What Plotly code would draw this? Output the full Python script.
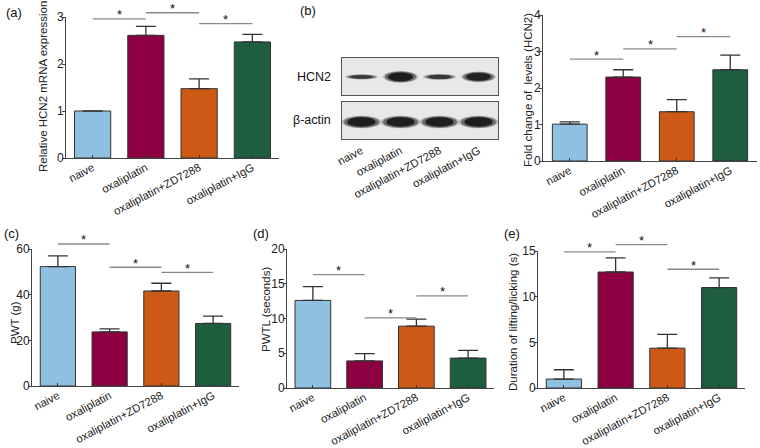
import plotly.graph_objects as go

# ---------------- data ----------------
groups = ["naive", "oxaliplatin", "oxaliplatin+ZD7288", "oxaliplatin+IgG"]
colors = ["#8fc0e2", "#8c0042", "#cc5a16", "#1f5d3f"]

a_vals = [1.0, 2.61, 1.475, 2.47]
a_err = [0.0, 0.19, 0.21, 0.16]
a_sig = [2.96, 3.09, 2.86]

b_vals = [1.01, 2.30, 1.35, 2.50]
b_err = [0.06, 0.20, 0.33, 0.40]
b_sig = [2.79, 3.07, 3.41]

c_vals = [52.3, 23.7, 41.6, 27.4]
c_err = [4.7, 1.3, 3.4, 3.2]
c_sig = [62.2, 52.0, 49.8]

d_vals = [12.6, 3.9, 8.9, 4.3]
d_err = [2.0, 1.06, 1.0, 1.1]
d_sig = [16.3, 10.1, 13.25]

e_vals = [0.98, 12.7, 4.36, 11.0]
e_err = [1.02, 1.54, 1.52, 1.06]
e_sig = [14.9, 15.7, 13.0]

sig_pairs = [(0, 1), (1, 2), (2, 3)]

hcn2_band = [0.45, 1.0, 0.5, 0.9]
actin_band = [1.0, 1.0, 1.0, 1.0]

FONT = "Arial, Liberation Sans, sans-serif"
W, H = 760, 448

def px_x(a, b):
    return [a / W, b / W]

def px_y(top, bottom):
    return [1 - bottom / H, 1 - top / H]

fig = go.Figure()

panels = [
    # (axis suffix, vals, err, sig, ymax, dtick, bar width, xdom, ydom)
    ("", a_vals, a_err, a_sig, 3, 1, 0.68, px_x(66, 279), px_y(17, 158)),
    ("4", b_vals, b_err, b_sig, 4, 1, 0.65, px_x(543, 757), px_y(15, 161)),
    ("5", c_vals, c_err, c_sig, 60, 20, 0.68, px_x(32, 239), px_y(249, 386)),
    ("6", d_vals, d_err, d_sig, 20, 5, 0.69, px_x(287, 494), px_y(249, 388)),
    ("7", e_vals, e_err, e_sig, 15, 5, 0.68, px_x(538, 745), px_y(251, 388)),
]

axis_common = dict(showgrid=False, zeroline=False, showline=True,
                   linecolor="#444", linewidth=1, automargin=False,
                   tickfont=dict(family=FONT, size=12, color="#222"))

annotations = []
shapes = []

for suf, vals, err, sig, ymax, dtick, bw, xdom, ydom in panels:
    xa = "x" + suf
    ya = "y" + suf
    fig.add_trace(go.Bar(
        x=groups, y=vals, width=bw,
        marker=dict(color=colors, line=dict(color="#333", width=1)),
        error_y=dict(type="data", symmetric=False, array=err,
                     arrayminus=[0] * len(err), color="#333",
                     thickness=1.3, width=10),
        xaxis=xa, yaxis=ya, showlegend=False, hoverinfo="skip"))
    xkey = "xaxis" + suf
    ykey = "yaxis" + suf
    fig.layout[xkey] = dict(axis_common, domain=xdom, anchor=ya,
                            type="category", range=[-0.5, 3.5],
                            ticks="inside", ticklen=3, tickcolor="#333",
                            tickangle=-28, ticklabelstandoff=-2,
                            tickfont=dict(family=FONT, size=11.3, color="#222"))
    fig.layout[ykey] = dict(axis_common, domain=ydom, anchor=xa,
                            range=[0, ymax], dtick=dtick, ticks="outside",
                            ticklen=3, tickcolor="#444",
                            ticklabelstandoff=-4)
    # significance brackets: y given in axis-domain fraction of the value
    for (i, j), h in zip(sig_pairs, sig):
        shapes.append(dict(type="line", xref=xa, yref=ya + " domain",
                           x0=i, x1=j, y0=h / ymax, y1=h / ymax,
                           line=dict(color="#8a8a8a", width=1.3)))
        annotations.append(dict(
            x=(i + j) / 2, y=h / ymax, xref=xa, yref=ya + " domain",
            text="*", showarrow=False, xanchor="center", yanchor="middle",
            yshift=4, font=dict(family=FONT, size=13, color="#111")))

# ---------------- western blot ----------------
blot_x = px_x(342, 498)
for suf, ydom, bands, yc, thick in [
    ("2", px_y(58, 95), hcn2_band, 0.49, 0.25),
    ("3", px_y(102, 139), actin_band, 0.46, 0.27),
]:
    xa = "x" + suf
    ya = "y" + suf
    fig.add_trace(go.Scatter(x=[0, 3], y=[0, 1], mode="markers",
                             marker=dict(opacity=0), xaxis=xa, yaxis=ya,
                             showlegend=False, hoverinfo="skip"))
    fig.layout["xaxis" + suf] = dict(
        domain=blot_x, anchor=ya, range=[-0.5, 3.5], showgrid=False,
        zeroline=False, showline=True, mirror=True, linecolor="#555",
        linewidth=1, ticks="", tickvals=[0, 1, 2, 3], ticktext=groups,
        showticklabels=(suf == "3"), tickangle=-28, automargin=False,
        tickfont=dict(family=FONT, size=11.3, color="#222"))
    fig.layout["yaxis" + suf] = dict(
        domain=ydom, anchor=xa, range=[0, 1], showgrid=False, zeroline=False,
        showline=True, mirror=True, linecolor="#555", linewidth=1,
        showticklabels=False, ticks="", automargin=False)
    shapes.append(dict(type="rect", xref=xa + " domain", yref=ya + " domain",
                       x0=0, x1=1, y0=0, y1=1, fillcolor="#e8e8e8",
                       line=dict(width=0), layer="below"))
    for i, inten in enumerate(bands):
        hw = (0.36 + 0.04 * inten) if suf == "2" else 0.45
        ht = thick * inten / 2
        for sc, op in [(1.12, 0.25), (1.0, 0.45), (0.8, 0.85)]:
            shapes.append(dict(
                type="circle", xref=xa, yref=ya,
                x0=i - hw * sc, x1=i + hw * sc,
                y0=yc - ht * (sc + 0.15), y1=yc + ht * (sc + 0.15),
                fillcolor="#111",
                opacity=op * (0.55 + 0.45 * inten),
                line=dict(width=0)))

annotations.append(dict(x=333 / W, y=1 - 77 / H, xref="paper", yref="paper",
                        text="HCN2", showarrow=False, xanchor="right",
                        yanchor="middle",
                        font=dict(family=FONT, size=12.5, color="#111")))
annotations.append(dict(x=333 / W, y=1 - 120 / H, xref="paper", yref="paper",
                        text="β-actin", showarrow=False, xanchor="right",
                        yanchor="middle",
                        font=dict(family=FONT, size=12.5, color="#111")))

# ---------------- panel labels ----------------
for lab, x, y in [("(a)", 14, 12), ("(b)", 308, 10), ("(c)", 11, 233),
                  ("(d)", 261, 233), ("(e)", 512, 233)]:
    annotations.append(dict(x=x / W, y=1 - y / H, xref="paper", yref="paper",
                            text=lab, showarrow=False, xanchor="center",
                            yanchor="middle",
                            font=dict(family=FONT, size=13, color="#111")))

# ---------------- y axis titles ----------------
for t, x, y in [("Relative HCN2 mRNA expression", 43, 87),
                ("Fold change of  levels (HCN2)", 528, 90),
                ("PWT (g)", 15, 323),
                ("PWTL (seconds)", 266, 310),
                ("Duration of lifting/licking (s)", 513, 322)]:
    annotations.append(dict(x=x / W, y=1 - y / H, xref="paper", yref="paper",
                            text=t.replace("  ", "&nbsp; "), showarrow=False,
                            textangle=-90, xanchor="center", yanchor="middle",
                            font=dict(family=FONT, size=11.5, color="#222")))

fig.update_layout(width=W, height=H,
                  margin=dict(l=0, r=0, t=0, b=0, pad=0, autoexpand=False),
                  plot_bgcolor="white", paper_bgcolor="white",
                  annotations=annotations, shapes=shapes, bargap=0.3)

fig.write_html("out.html",
               config={"displayModeBar": False},
               post_script="document.body.style.margin='0';"
                           "document.body.style.overflow='hidden';")
